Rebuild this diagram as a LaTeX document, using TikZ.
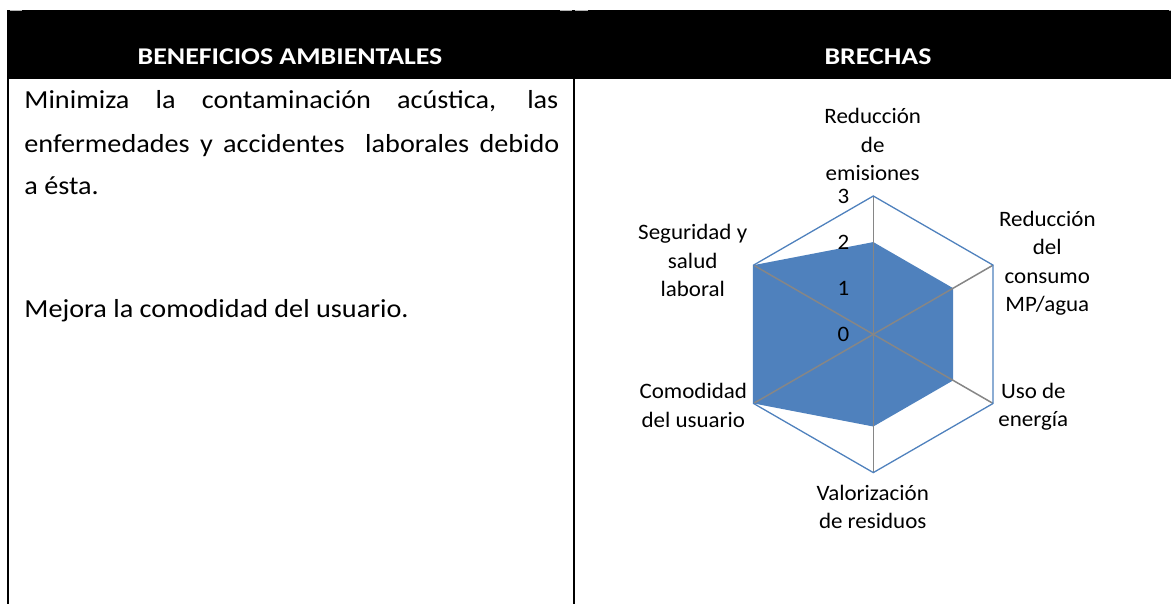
\documentclass[tikz,border=0pt]{standalone}
\usepackage{fontspec}
\setmainfont{Carlito}
\newfontfamily\bodyfont[FakeStretch=1.085]{Carlito}
\newfontfamily\headfont[FakeStretch=1.16]{Carlito}
\newfontfamily\chartfont[FakeStretch=1.045]{Carlito}
\usepackage{xcolor}
\usepackage{tikz}
\definecolor{chartblue}{HTML}{4F81BD}
\definecolor{axisgray}{HTML}{868686}

\begin{document}
\begin{tikzpicture}[x=0.5pt,y=0.5pt,
  headtxt/.style={text=white, font=\headfont\bfseries\fontsize{12pt}{14pt}\selectfont, inner sep=0pt, anchor=base},
  bodytxt/.style={font=\bodyfont\fontsize{13pt}{16pt}\selectfont, inner sep=0pt, anchor=base west},
  axislbl/.style={font=\chartfont\fontsize{11pt}{14.25pt}\selectfont, align=center, inner sep=0pt, anchor=base},
  ticklbl/.style={font=\chartfont\fontsize{11pt}{13pt}\selectfont, inner sep=0pt}]
\useasboundingbox (0,0) rectangle (1171,604);
% header row
\fill (7,525) rectangle (1171,594);
\draw[gray!60, line width=0.5pt] (10,593) -- (22,593) (560,593) -- (572,593) (575,593) -- (588,593) (1169,593) -- (1171,593);
\node[headtxt] (hdrgain) at (290,539.7) {BENEFICIOS AMBIENTALES};
\node[headtxt] (hdrgap) at (878,539.7) {BRECHAS};
\draw[line width=1pt] (8,525) -- (8,0);
\draw[line width=0.85pt] (574,525) -- (574,0);

% left column
\node[bodytxt] (txtA) at (24,495.7) {\makebox[267pt][s]{Minimiza la contaminación acústica, las}};
\node[bodytxt] (txtB) at (24,451.3) {\makebox[267.5pt][s]{enfermedades y accidentes\ \ laborales debido}};
\node[bodytxt] (txtC) at (24,409) {a ésta.};
\node[bodytxt] (txtD) at (24,286.7) {Mejora la comodidad del usuario.};

% radar chart
\begin{scope}[shift={(873.3,269.7)}, x=23.05pt, y=23.05pt]
\coordinate (ctr) at (0,0);
\fill[chartblue] (90:2) -- (30:2) -- (-30:2) -- (-90:2) -- (210:3) -- (150:3) -- cycle;
\foreach \a [count=\i] in {90,30,...,-210} {
  \coordinate (v\i) at (\a:3);
  \draw[axisgray, line width=0.75pt] (ctr) -- (v\i);
}
\draw[chartblue, line width=0.65pt] (v1) -- (v2) -- (v3) -- (v4) -- (v5) -- (v6) -- cycle;
\foreach \k in {0,...,3}
  \node[ticklbl] (tick\k) at (-0.65,\k) {\k};
\end{scope}

% axis names (base = last line)
\node[axislbl] (lblemis) at (872.7,423) {Reducción\\de\\emisiones};
\node[axislbl] (lblagua) at (1047.3,292.3) {Reducción\\del\\consumo\\MP/agua};
\node[axislbl] (lblener) at (1033.3,177.3) {Uso de\\energía};
\node[axislbl] (lblresid) at (872.7,75) {Valorización\\de residuos};
\node[axislbl] (lblconf) at (693.3,176.7) {Comodidad\\del usuario};
\node[axislbl] (lblsafe) at (692.7,307.3) {Seguridad y\\salud\\laboral};
\end{tikzpicture}
\end{document}
